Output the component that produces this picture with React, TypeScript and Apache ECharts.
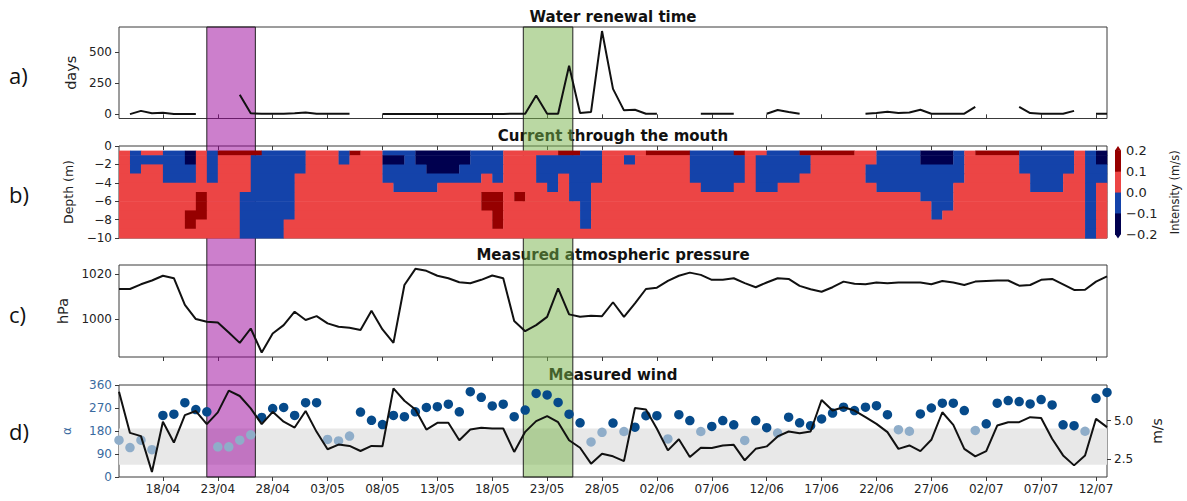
import React, { useEffect, useRef } from "react";
import * as echarts from "echarts";

// ---------- data ----------
// x = day index counted from 13/04 (14/04 = 1 ... 13/07 = 91)
const START = Date.UTC(2021, 3, 13);
const X_MIN = 1;
const X_MAX = 91;
const dateTicks = [5, 10, 15, 20, 25, 30, 35, 40, 45, 50, 55, 60, 65, 70, 75, 80, 85, 90];

// a) water renewal time (days), one value per day from 14/04, null = no data
const waterRenewal: (number | null)[] = [
  null, 2, 28, 8, 12, 3, 2, 2, null, null,
  null, 157, 8, 5, 5, 5, 8, 15, 5, 5,
  5, 5, null, null, 3, 3, 3, 3, 3, 3,
  3, 3, 3, 3, 3, 3, 5, 5, 152, 5,
  5, 391, 10, 19, 671, 205, 32, 37, 5, 5,
  null, null, null, 5, 5, 5, 5, null, null, 5,
  35, 18, 5, null, null, null, null, null, 5, 10,
  20, 10, 15, 37, 5, 5, 5, 5, 60, null,
  null, null, 60, 10, 5, 5, 5, 28, null, 5,
  5,
];
const waterTicks = [0, 250, 500];

// b) current through the mouth: classes per day (columns) and depth band (rows)
// N < -0.1, B -0.1..0, R 0..0.1, D > 0.1
const heatRows = [
  "RBRRBBNRBDDDDBBBBRRRBDRRBBBNNNNNBBBRRRRRDDBBRRRRDDDDBBBBDRRBBBDDDDDRRBBBBNNNBRDDDDBBBBBRBN",
  "RBBBBBNRBRRRBBBBBRRRBRRRNNBNNNNNBBBRRRBBBBBBRRBRRRRRBBBBBRBBBBBRRRRRRBBBBNNNBRRRRRBBBBBRBN",
  "RBRRBBBRBRRRBBBBBRRRRRRRBBBBNNNBBBBRRRBBBBBBRRRRRRRRBBBBBRBBBBBRRRRRBBBBBBBBBRRRRRBBBBBRBB",
  "RRRRBBBRBRRRBBBBRRRRRRRRBBBBBBBBBRBRRRBBRBBBRRRRRRRRBBBBBRBBBBRRRRRRBBBBBBBBBRRRRRRBBBRRBB",
  "RRRRRRRRRRRRBBBBRRRRRRRRRBBBBRRRRRRRRRRBRBBRRRRRRRRRRBBBRRBBRRRRRRRRRBBBBBBBRRRRRRRBBBRRBR",
  "RRRRRRRDRRRBBBBBRRRRRRRRRRRRRRRRRDDRDRRRRBBRRRRRRRRRRRRRRRRRRRRRRRRRRRRRRBBBRRRRRRRRRRRRBR",
  "RRRRRRRDRRRBBBBBRRRRRRRRRRRRRRRRRDDRRRRRRRBRRRRRRRRRRRRRRRRRRRRRRRRRRRRRRRBBRRRRRRRRRRRRBR",
  "RRRRRRDDRRRBBBBBRRRRRRRRRRRRRRRRRRDRRRRRRRBRRRRRRRRRRRRRRRRRRRRRRRRRRRRRRRBRRRRRRRRRRRRRBR",
  "RRRRRRDRRRRBBBBRRRRRRRRRRRRRRRRRRRDRRRRRRRBRRRRRRRRRRRRRRRRRRRRRRRRRRRRRRRRRRRRRRRRRRRRRBR",
  "RRRRRRRRRRRBBBBRRRRRRRRRRRRRRRRRRRRRRRRRRRRRRRRRRRRRRRRRRRRRRRRRRRRRRRRRRRRRRRRRRRRRRRRRBR",
];
const depthEdges = [-0.5, -1, -2, -3, -4, -5, -6, -7, -8, -9, -10];
const heatClasses = "NBRD";
const heatColors = ["#00004f", "#1443aa", "#ec4545", "#960000"];
const cbLevels = [-0.2, -0.1, 0, 0.1, 0.2];

// c) measured atmospheric pressure (hPa)
const pressure = [
  1013.4, 1013.4, 1015.5, 1017.2, 1019.3, 1018.2, 1006.3, 1000.0, 998.8, 998.5,
  994.0, 989.4, 995.8, 985.1, 993.6, 997.3, 1003.3, 999.6, 1001.3, 998.1,
  996.6, 996.1, 995.1, 1003.7, 995.4, 989.4, 1015.2, 1022.4, 1021.5, 1019.3,
  1018.2, 1016.4, 1016.0, 1017.5, 1019.4, 1018.2, 999.1, 994.6, 997.3, 1001.0,
  1013.7, 1002.1, 1001.0, 1001.5, 1001.3, 1007.5, 1001.0, 1007.0, 1013.4, 1014.0,
  1017.0, 1019.3, 1020.7, 1019.7, 1017.5, 1017.5, 1018.2, 1016.0, 1014.2, 1016.3,
  1018.2, 1017.9, 1014.8, 1013.3, 1012.2, 1014.2, 1016.7, 1015.7, 1015.5, 1016.3,
  1016.0, 1016.3, 1016.3, 1016.3, 1015.5, 1017.0, 1016.3, 1015.2, 1016.7, 1017.0,
  1017.2, 1017.2, 1014.9, 1015.2, 1017.5, 1017.9, 1015.5, 1013.0, 1013.1, 1016.7,
  1019.0,
];
const pressureTicks = [1000, 1020];

// d) measured wind: direction (deg) and speed (m/s)
const windDir = [
  144, 115, 144, 107, 241, 246, 291, 264, 255, 118,
  118, 144, 165, 233, 268, 272, 241, 291, 291, 147,
  141, 160, 254, 222, 205, 241, 236, 255, 272, 275,
  285, 255, 334, 312, 278, 285, 236, 262, 327, 321,
  292, 246, 212, 137, 175, 211, 178, 195, 240, 240,
  149, 244, 221, 178, 198, 221, 204, 143, 221, 193,
  172, 234, 212, 201, 227, 250, 273, 260, 273, 279,
  244, 185, 179, 247, 270, 289, 289, 260, 182, 208,
  289, 299, 295, 286, 303, 282, 204, 201, 179, 308,
  331,
];
const windSpeed = [
  6.88, 4.19, 3.98, 1.64, 4.92, 3.56, 5.35, 5.62, 4.76, 5.53,
  6.95, 6.6, 5.79, 4.76, 5.57, 4.92, 4.54, 5.62, 4.26, 3.12,
  3.43, 3.34, 3.01, 3.34, 3.32, 7.1, 6.29, 5.72, 4.41, 4.85,
  4.85, 3.71, 4.41, 4.52, 4.48, 4.48, 2.95, 4.26, 4.96, 5.29,
  4.89, 3.71, 3.22, 2.18, 2.83, 2.66, 2.35, 5.82, 5.72, 4.46,
  3.05, 3.78, 2.61, 3.22, 3.2, 3.37, 3.41, 2.4, 3.15, 3.31,
  3.96, 4.28, 4.17, 4.28, 6.34, 5.65, 5.87, 5.65, 5.22, 4.78,
  4.24, 3.15, 3.37, 3.0, 3.74, 5.54, 4.72, 3.15, 2.66, 3.0,
  4.67, 4.89, 4.89, 5.22, 5.17, 3.81, 2.72, 2.07, 2.72, 5.11,
  4.57,
];
const dirTicks = 90;
const speedTicks = [2.5, 5.0];
const dirSector = [48, 190];

// highlighted periods
const purpleBand = [9.0, 13.42];
const greenBand = [37.83, 42.34];

const panelTitles = ["Water renewal time", "Current through the mouth", "Measured atmospheric pressure", "Measured wind"];
const panelLetters = ["a)", "b)", "c)", "d)"];

// ---------- styling ----------
const FONT = "DejaVu Sans";
const TXT = "#222";
const FRAME = "#3a3a3a";
const DIR_COLOR = "#3a6aa0";
const GRID_TOPS = [27, 146, 265, 385];
const GRID_H = [91.5, 92, 92, 92];
const PLOT_LEFT = 119;
const PLOT_W = 988;

function fmtDate(v: number) {
  const d = new Date(START + Math.round(v) * 86400000);
  return String(d.getUTCDate()).padStart(2, "0") + "/" + String(d.getUTCMonth() + 1).padStart(2, "0");
}
function minus(v: number, digits: number) {
  if (Math.abs(v) < 1e-9) return (0).toFixed(digits);
  return (v < 0 ? "\u2212" : "") + Math.abs(v).toFixed(digits);
}

function buildOption(): any {
  const grids: any[] = GRID_TOPS.map((t, i) => ({
    left: PLOT_LEFT, top: t, width: PLOT_W, height: GRID_H[i],
    show: true, borderColor: FRAME, borderWidth: 1, backgroundColor: "transparent",
    containLabel: false, outerBoundsMode: "none",
  }));
  grids.push({ left: 1115, top: 150.5, width: 6, height: 83.5, show: false, containLabel: false, outerBoundsMode: "none" });
  grids.push({ left: PLOT_LEFT, top: GRID_TOPS[0], width: PLOT_W, height: GRID_TOPS[3] + GRID_H[3] - GRID_TOPS[0], show: false, containLabel: false, outerBoundsMode: "none" });

  const xAxes: any[] = [0, 1, 2, 3].map((gi) => ({
    type: "value", gridIndex: gi, min: X_MIN, max: X_MAX,
    axisLine: { show: false },
    splitLine: { show: false },
    axisTick: { show: true, customValues: dateTicks, length: 4, lineStyle: { color: FRAME } },
    axisLabel: {
      show: gi === 3, customValues: dateTicks, formatter: (v: number) => fmtDate(v),
      color: TXT, fontSize: 12, fontFamily: FONT, margin: 6,
    },
  }));
  xAxes.push({ type: "value", gridIndex: 4, min: 0, max: 1, show: false });
  xAxes.push({ type: "value", gridIndex: 5, min: X_MIN, max: X_MAX, show: false });

  const lab = { color: TXT, fontSize: 12, fontFamily: FONT, margin: 7 };
  const tick = { show: true, length: 4, lineStyle: { color: FRAME } };
  const nameStyle = (size: number, color = TXT) => ({ color, fontFamily: FONT, fontSize: size });

  const yAxes: any[] = [
    {
      type: "value", gridIndex: 0, min: -33.5, max: 703.5,
      axisLine: { show: false }, splitLine: { show: false },
      axisTick: { ...tick, customValues: waterTicks },
      axisLabel: { ...lab, customValues: waterTicks, formatter: (v: number) => String(v) },
      name: "days", nameLocation: "middle", nameRotate: 90, nameGap: 41, nameTextStyle: nameStyle(14.5),
    },
    {
      type: "value", gridIndex: 1, min: -10, max: 0, interval: 2,
      axisLine: { show: false }, splitLine: { show: false },
      axisTick: tick,
      axisLabel: { ...lab, formatter: (v: number) => minus(v, 0) },
      name: "Depth (m)", nameLocation: "middle", nameRotate: 90, nameGap: 44, nameTextStyle: nameStyle(12.5),
    },
    {
      type: "value", gridIndex: 2, min: 983.1, max: 1024.1,
      axisLine: { show: false }, splitLine: { show: false },
      axisTick: { ...tick, customValues: pressureTicks },
      axisLabel: { ...lab, customValues: pressureTicks, formatter: (v: number) => String(Math.round(v)) },
      name: "hPa", nameLocation: "middle", nameRotate: 90, nameGap: 49, nameTextStyle: nameStyle(14.5),
    },
    {
      type: "value", gridIndex: 3, min: 0, max: 360, interval: dirTicks,
      axisLine: { show: false }, splitLine: { show: false },
      axisTick: tick,
      axisLabel: { ...lab, color: DIR_COLOR, formatter: (v: number) => String(v) },
      name: "\u03b1", nameLocation: "middle", nameRotate: 90, nameGap: 46, nameTextStyle: nameStyle(12, DIR_COLOR),
    },
    {
      type: "value", gridIndex: 3, position: "right", min: 1.31, max: 7.32,
      axisLine: { show: false }, splitLine: { show: false },
      axisTick: { ...tick, customValues: speedTicks },
      axisLabel: { ...lab, customValues: speedTicks, formatter: (v: number) => v.toFixed(1) },
      name: "m/s", nameLocation: "middle", nameRotate: 90, nameGap: 43, nameTextStyle: nameStyle(14),
    },
    {
      type: "value", gridIndex: 4, position: "right", min: cbLevels[0], max: cbLevels[cbLevels.length - 1],
      axisLine: { show: false }, splitLine: { show: false },
      axisTick: { show: true, length: 3, customValues: cbLevels, lineStyle: { color: FRAME } },
      axisLabel: { color: TXT, fontSize: 13, fontFamily: FONT, margin: 5, customValues: cbLevels, formatter: (v: number) => minus(v, 1) },
      name: "Intensity (m/s)", nameLocation: "middle", nameRotate: 90, nameGap: 48, nameTextStyle: nameStyle(11.5),
    },
    { type: "value", gridIndex: 5, min: 0, max: 1, show: false },
  ];

  // heatmap rectangles merged by runs
  const heatRects: number[][] = [];
  heatRows.forEach((row, r) => {
    let s = 0;
    for (let c = 1; c <= row.length; c++) {
      if (c === row.length || row[c] !== row[s]) {
        heatRects.push([X_MIN + s, X_MIN + c, depthEdges[r], depthEdges[r + 1], heatClasses.indexOf(row[s])]);
        s = c;
      }
    }
  });

  const cbData = cbLevels.slice(0, -1).map((lo, i) => [i, lo, cbLevels[i + 1]]);
  const ext = 0.022;

  const series: any[] = [
    {
      type: "line", xAxisIndex: 0, yAxisIndex: 0, showSymbol: false, symbol: "none",
      data: waterRenewal.map((v, i) => [X_MIN + i, v === null ? "-" : v]),
      lineStyle: { color: "#111", width: 2 }, connectNulls: false, z: 3, silent: true,
    },
    {
      type: "custom", xAxisIndex: 1, yAxisIndex: 1, silent: true, z: 2,
      dimensions: ["x0", "x1", "y0", "y1", "c"],
      encode: { x: [0, 1], y: [2, 3] },
      data: heatRects,
      renderItem: (_p: any, api: any) => {
        const a = api.coord([api.value(0), api.value(2)]);
        const b = api.coord([api.value(1), api.value(3)]);
        return {
          type: "rect",
          shape: { x: a[0], y: a[1], width: b[0] - a[0] + 0.3, height: b[1] - a[1] + 0.6 },
          style: { fill: heatColors[api.value(4)] },
        };
      },
    },
    {
      type: "line", xAxisIndex: 2, yAxisIndex: 2, showSymbol: false, symbol: "none",
      data: pressure.map((v, i) => [X_MIN + i, v]),
      lineStyle: { color: "#111", width: 2 }, z: 3, silent: true,
    },
    {
      type: "line", xAxisIndex: 3, yAxisIndex: 3, data: [], z: 1, silent: true,
      markArea: {
        silent: true, label: { show: false },
        itemStyle: { color: "#e8e8e8" },
        data: [[{ yAxis: dirSector[0] }, { yAxis: dirSector[1] }]],
      },
    },
    {
      type: "scatter", xAxisIndex: 3, yAxisIndex: 3, symbolSize: 9.5, z: 3, silent: true,
      data: windDir.map((v, i) => [X_MIN + i, v]),
      itemStyle: {
        opacity: 1,
        color: (p: any) => (p.value[1] >= dirSector[0] && p.value[1] <= dirSector[1] ? "#8fadc9" : "#064a8a"),
      },
    },
    {
      type: "line", xAxisIndex: 3, yAxisIndex: 4, showSymbol: false, symbol: "none",
      data: windSpeed.map((v, i) => [X_MIN + i, v]),
      lineStyle: { color: "#111", width: 2 }, z: 4, silent: true,
    },
    {
      type: "custom", xAxisIndex: 4, yAxisIndex: 5, silent: true, clip: false,
      dimensions: ["i", "lo", "hi"], encode: { y: [1, 2] },
      data: cbData,
      renderItem: (_p: any, api: any) => {
        const i = api.value(0);
        const lo = api.value(1);
        const hi = api.value(2);
        const a = api.coord([0, hi]);
        const b = api.coord([1, lo]);
        const children: any[] = [
          { type: "rect", shape: { x: a[0], y: a[1] - 0.3, width: b[0] - a[0], height: b[1] - a[1] + 0.6 }, style: { fill: heatColors[i] } },
        ];
        if (i === 0) {
          const t = api.coord([0.5, lo - ext]);
          children.push({ type: "polygon", shape: { points: [[a[0], b[1]], [b[0], b[1]], t] }, style: { fill: heatColors[i] } });
        }
        if (i === cbData.length - 1) {
          const t = api.coord([0.5, hi + ext]);
          children.push({ type: "polygon", shape: { points: [[a[0], a[1]], [b[0], a[1]], t] }, style: { fill: heatColors[i] } });
        }
        return { type: "group", children };
      },
    },
    {
      type: "line", xAxisIndex: 5, yAxisIndex: 6, data: [], z: 10, silent: true,
      markArea: {
        silent: true, label: { show: false },
        data: [
          [{ xAxis: purpleBand[0], itemStyle: { color: "rgba(153,0,153,0.5)", borderColor: "#222", borderWidth: 1 } }, { xAxis: purpleBand[1] }],
          [{ xAxis: greenBand[0], itemStyle: { color: "rgba(117,177,71,0.5)", borderColor: "#222", borderWidth: 1 } }, { xAxis: greenBand[1] }],
        ],
      },
    },
  ];

  const graphic: any[] = [];
  panelTitles.forEach((t, i) => {
    graphic.push({
      type: "text", x: PLOT_LEFT + PLOT_W / 2, y: GRID_TOPS[i] - 10.5, z: 0, silent: true,
      style: {
        text: t, fontFamily: FONT, fontWeight: "bold", fontSize: 15, fill: "#111",
        align: "center", textAlign: "center", verticalAlign: "middle", textVerticalAlign: "middle",
      },
    });
  });
  const letterY = [75, 194, 314, 431];
  panelLetters.forEach((t, i) => {
    graphic.push({
      type: "text", x: 9, y: letterY[i], z: 0, silent: true,
      style: {
        text: t, fontFamily: "Open Sans", fontSize: 22, fill: "#111",
        align: "left", textAlign: "left", verticalAlign: "middle", textVerticalAlign: "middle",
      },
    });
  });

  return {
    animation: false,
    backgroundColor: "#fff",
    grid: grids,
    xAxis: xAxes,
    yAxis: yAxes,
    series,
    graphic,
  };
}

export default function App() {
  const ref = useRef<HTMLDivElement>(null);
  useEffect(() => {
    if (!ref.current) return;
    const chart = echarts.init(ref.current, undefined, { renderer: "svg" });
    chart.setOption(buildOption());
    return () => chart.dispose();
  }, []);
  return (
    <div
      ref={ref}
      style={{ position: "absolute", left: 0, top: 0, width: 1187, height: 501, background: "#fff" }}
    />
  );
}
